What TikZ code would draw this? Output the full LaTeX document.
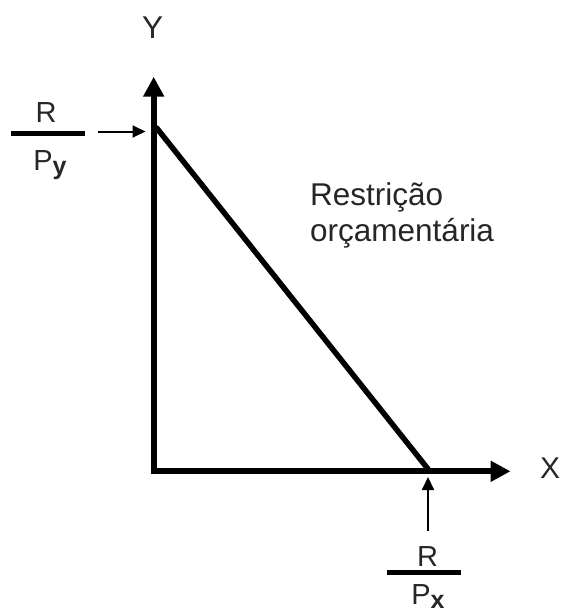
\documentclass[tikz,border=0pt]{standalone}
\usepackage{fontspec}
\setmainfont{Liberation Sans}
\usetikzlibrary{arrows.meta}
\definecolor{txt}{HTML}{262626}
\begin{document}
\begin{tikzpicture}[x=1pt,y=-1pt,
  axis/.style={line width=6pt,-{Triangle[length=20pt,width=20pt]}},
  budget/.style={line width=5.5pt,line cap=round},
  pointer/.style={line width=2pt,-{Triangle[length=13pt,width=12pt]}},
  bar/.style={line width=5.3pt},
  lbl/.style={inner sep=0pt,anchor=base,text=txt,font=\fontsize{31.5}{36}\selectfont},
  frac/.style={inner sep=0pt,anchor=base,text=txt,font=\fontsize{29}{34}\selectfont},
]
\newcommand{\subbold}[1]{\raisebox{-4pt}{\fontsize{25}{30}\selectfont\bfseries #1}}
\useasboundingbox (0,0) rectangle (563,616);
% axes
\coordinate (O) at (153.7,471.3);
\coordinate (ytip) at (153.7,76.7);
\coordinate (xtip) at (510.5,471.3);
\coordinate (ytop) at (156.7,128);
\coordinate (xend) at (428,469);
\draw[axis] (153.7,474.3) -- (ytip);
\draw[axis] (150.7,471.3) -- (xtip);
\draw[budget] (ytop) -- (xend);
% axis labels
\node[lbl] (Y) at (152.7,38) {Y};
\node[lbl,font=\fontsize{30}{36}\selectfont] (X) at (550,478) {X};
% R/Py
\node[frac] (Ry) at (46,122.7) {R};
\draw[bar] (11,133.3) coordinate (bya) -- (85,133.3) coordinate (byb);
\node[frac] (Py) at (50,170) {P\subbold{y}};
\coordinate (ya) at (98,131.5);
\coordinate (yb) at (145.5,131.5);
\draw[pointer] (ya) -- (yb);
% R/Px
\node[frac] (Rx) at (427.5,566) {R};
\draw[bar] (386.7,572.5) coordinate (bxa) -- (461,572.5) coordinate (bxb);
\node[frac] (Px) at (428,604) {P\subbold{x}};
\coordinate (xa) at (428,531);
\coordinate (xb) at (428,477);
\draw[pointer] (xa) -- (xb);
% label
\node[lbl,anchor=base west,align=left] (lab) at (310,241.7) {Restrição\\orçamentária};
\end{tikzpicture}
\end{document}
